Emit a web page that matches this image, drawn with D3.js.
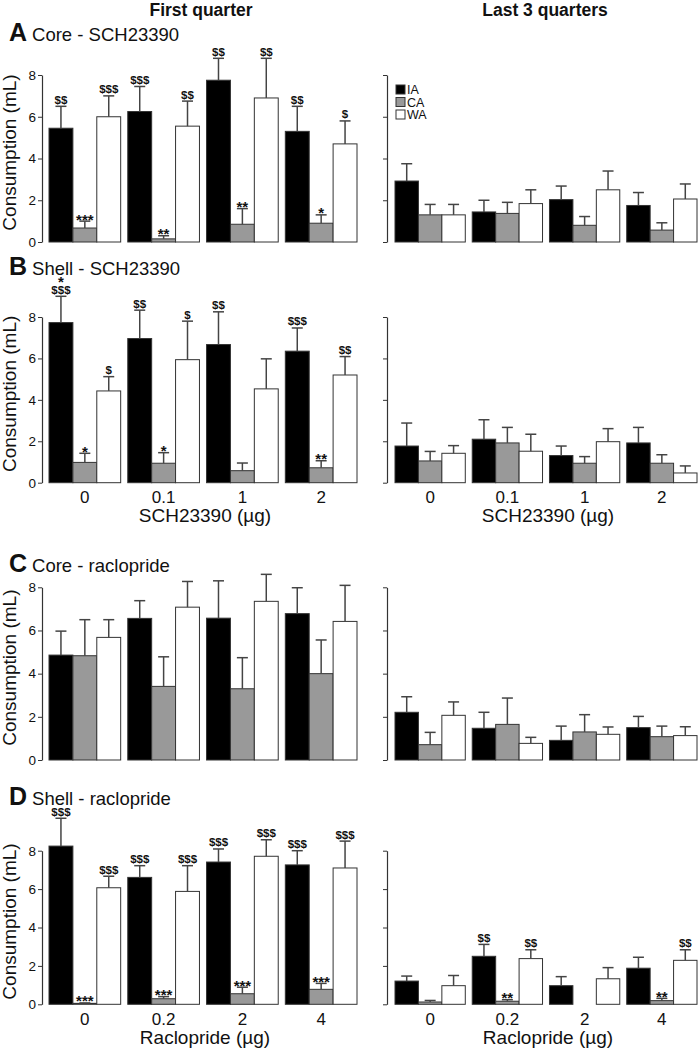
<!DOCTYPE html>
<html><head><meta charset="utf-8">
<script src="https://cdn.jsdelivr.net/npm/d3@7"></script>
<style>body{margin:0;background:#fff} text{font-family:"Liberation Sans",Arial,Helvetica,sans-serif;fill:#111}</style>
</head><body><svg id="c" width="698" height="1049"></svg>
<script>
// ---------- DATA ----------
const seriesNames = ["IA","CA","WA"];
const dosesSCH = ["0","0.1","1","2"];
const dosesRac = ["0","0.2","2","4"];
const yTicks = [0,2,4,6,8];
const columnTitles = ["First quarter","Last 3 quarters"];
const panelLetters = ["A","B","C","D"];
const panelNames = ["Core - SCH23390","Shell - SCH23390","Core - raclopride","Shell - raclopride"];
const xTitles = ["SCH23390 (\u00b5g)","Raclopride (\u00b5g)"];
const yTitle = "Consumption (mL)";

// means [IA, CA, WA] per dose, and SEM
const coreSCH_first_mean = [[5.45,6.25,7.75,5.3],[0.67,0.15,0.85,0.9],[6.0,5.55,6.9,4.7]];
const coreSCH_first_sem  = [[1.05,1.2,1.05,1.2],[0.33,0.15,0.75,0.4],[1.0,1.2,1.9,1.1]];
const coreSCH_first_sig  = [["$$","$$$","$$","$$"],["***","**","**","*"],["$$$","$$","$$","$"]];
const coreSCH_last_mean  = [[2.92,1.44,2.03,1.75],[1.3,1.37,0.8,0.57],[1.3,1.84,2.5,2.06]];
const coreSCH_last_sem   = [[0.83,0.56,0.65,0.62],[0.5,0.53,0.42,0.35],[0.5,0.66,0.9,0.72]];

const shellSCH_first_mean = [[7.73,6.96,6.67,6.35],[0.98,0.94,0.58,0.72],[4.43,5.94,4.53,5.2]];
const shellSCH_first_sem  = [[1.27,1.37,1.58,1.12],[0.44,0.51,0.37,0.34],[0.69,1.86,1.45,0.89]];
const shellSCH_first_sig  = [["*|$$$","$$","$$","$$$"],["*","*","","**"],["$","$","","$$"]];
const shellSCH_last_mean  = [[1.77,2.1,1.31,1.92],[1.05,1.92,0.94,0.94],[1.42,1.52,1.98,0.47]];
const shellSCH_last_sem   = [[1.11,0.94,0.46,0.75],[0.46,0.75,0.32,0.41],[0.37,0.82,0.63,0.34]];

const coreRac_first_mean = [[4.86,6.56,6.57,6.78],[4.83,3.41,3.3,4.0],[5.68,7.08,7.35,6.42]];
const coreRac_first_sem  = [[1.11,0.82,1.73,1.2],[1.67,1.37,1.44,1.56],[0.82,1.19,1.25,1.67]];
const coreRac_last_mean  = [[2.21,1.47,0.91,1.5],[0.71,1.65,1.3,1.08],[2.07,0.77,1.19,1.13]];
const coreRac_last_sem   = [[0.72,0.74,0.66,0.52],[0.57,1.22,0.8,0.49],[0.62,0.28,0.34,0.41]];

const shellRac_first_mean = [[8.24,6.61,7.41,7.26],[0.05,0.29,0.55,0.78],[6.07,5.88,7.71,7.1]];
const shellRac_first_sem  = [[1.45,0.61,0.68,0.74],[0.02,0.11,0.34,0.31],[0.6,1.34,0.86,1.4]];
const shellRac_first_sig  = [["$$$","$$$","$$$","$$$"],["***","***","***","***"],["$$$","$$$","$$$","$$$"]];
const shellRac_last_mean  = [[1.21,2.5,0.97,1.88],[0.12,0.16,0,0.19],[0.97,2.38,1.33,2.29]];
const shellRac_last_sem   = [[0.26,0.62,0.47,0.57],[0.08,0.08,0,0.12],[0.53,0.46,0.58,0.55]];
const shellRac_last_sig   = [["","$$","",""],["","**","","**"],["","$$","","$$"]];

// ---------- DRAW ----------
const svg = d3.select("#c");
const fills = {IA:"#000", CA:"#999", WA:"#fff"};
const left = {axisX:42, r0:49, r1:357};
const right = {axisX:387, r0:395, r1:697};
const rows = [
  {y0:242, y8:75, titleY:41},
  {y0:482.7, y8:317, titleY:275},
  {y0:760, y8:587.3, titleY:572},
  {y0:1004.3, y8:850.7, titleY:805}
];

const panels = [
  {row:0, col:left,  doses:dosesSCH, mean:coreSCH_first_mean, sem:coreSCH_first_sem, sig:coreSCH_first_sig, labels:true},
  {row:0, col:right, doses:dosesSCH, mean:coreSCH_last_mean, sem:coreSCH_last_sem, sig:null, labels:false, legend:true},
  {row:1, col:left,  doses:dosesSCH, mean:shellSCH_first_mean, sem:shellSCH_first_sem, sig:shellSCH_first_sig, labels:true, xTitle:xTitles[0]},
  {row:1, col:right, doses:dosesSCH, mean:shellSCH_last_mean, sem:shellSCH_last_sem, sig:null, labels:false, xTitle:xTitles[0]},
  {row:2, col:left,  doses:dosesRac, mean:coreRac_first_mean, sem:coreRac_first_sem, sig:null, labels:true},
  {row:2, col:right, doses:dosesRac, mean:coreRac_last_mean, sem:coreRac_last_sem, sig:null, labels:false},
  {row:3, col:left,  doses:dosesRac, mean:shellRac_first_mean, sem:shellRac_first_sem, sig:shellRac_first_sig, labels:true, xTitle:xTitles[1]},
  {row:3, col:right, doses:dosesRac, mean:shellRac_last_mean, sem:shellRac_last_sem, sig:shellRac_last_sig, labels:false, xTitle:xTitles[1]}
];

// column titles
svg.append("text").attr("x",201).attr("y",15.5).attr("text-anchor","middle")
  .style("font-size","17.5px").style("font-weight","bold").text(columnTitles[0]);
svg.append("text").attr("x",545).attr("y",15.5).attr("text-anchor","middle")
  .style("font-size","17.5px").style("font-weight","bold").text(columnTitles[1]);

// panel titles + y titles
rows.forEach((r,i)=>{
  const t = svg.append("text").attr("x",9).attr("y",r.titleY);
  t.append("tspan").style("font-size","25px").style("font-weight","bold").text(panelLetters[i]);
  t.append("tspan").attr("dx",5).style("font-size","18.5px").text(panelNames[i]);
  const cy = (r.y0 + r.y8)/2 - 6;
  svg.append("text").attr("transform",`translate(16,${cy}) rotate(-90)`)
    .attr("text-anchor","middle").style("font-size","19px").text(yTitle);
});

panels.forEach(p=>{
  const r = rows[p.row];
  const y = d3.scaleLinear().domain([0,8]).range([r.y0, r.y8]);
  const xg = d3.scaleBand().domain(p.doses).range([p.col.r0, p.col.r1]).paddingInner(0.09).paddingOuter(0);
  const xs = d3.scaleBand().domain(seriesNames).range([0, xg.bandwidth()]);
  const g = svg.append("g");

  // axis
  const ax = d3.axisLeft(y).tickValues(yTicks).tickSize(4).tickSizeOuter(0)
    .tickFormat(p.labels ? d3.format("d") : "");
  const axg = g.append("g").attr("transform",`translate(${p.col.axisX},0)`).call(ax);
  axg.select(".domain").attr("stroke","#333").attr("stroke-width",1.2);
  axg.selectAll(".tick line").attr("stroke","#333");
  axg.selectAll(".tick text").style("font-size","13.5px").attr("fill","#111").attr("x",-6)
    .style("font-family","'Liberation Sans',Arial,sans-serif");

  p.doses.forEach((d,di)=>{
    seriesNames.forEach((s,si)=>{
      const m = p.mean[si][di], e = p.sem[si][di];
      const bx = xg(d) + xs(s), bw = xs.bandwidth();
      if (m > 0) {
        g.append("rect").attr("x",bx).attr("y",y(m)).attr("width",bw).attr("height",y(0)-y(m))
          .attr("fill",fills[s]).attr("stroke", "#333").attr("stroke-width",1);
      }
      const cx = bx + bw/2;
      if (e > 0) {
        g.append("line").attr("x1",cx).attr("x2",cx).attr("y1",y(m)).attr("y2",y(m+e))
          .attr("stroke","#444").attr("stroke-width",1.5);
        g.append("line").attr("x1",cx-5.5).attr("x2",cx+5.5).attr("y1",y(m+e)).attr("y2",y(m+e))
          .attr("stroke","#444").attr("stroke-width",1.5);
      }
      if (p.sig) {
        const lab = p.sig[si][di];
        if (lab) {
          const top = y(m+e);
          const lines = lab.split("|").reverse();
          let base = null;
          lines.forEach((ln,li)=>{
            const star = ln.indexOf("*")>=0;
            let by;
            if (li===0) by = star ? top + 3.5 : top - 2.5;
            else by = base - 7;
            base = by;
            g.append("text").attr("x",cx).attr("y",by).attr("text-anchor","middle")
              .style("font-size", star ? "15px" : "11.5px").style("font-weight","bold").text(ln);
          });
        }
      }
    });
  });

  if (p.row===1 || p.row===3) {
    p.doses.forEach(d=>{
      g.append("text").attr("x",xg(d)+xg.bandwidth()/2).attr("y",r.y0+20.5).attr("text-anchor","middle")
        .style("font-size","17px").text(d);
    });
    g.append("text").attr("x",(p.col.r0+p.col.r1)/2+2).attr("y",r.y0+39.5).attr("text-anchor","middle")
      .style("font-size","19px").text(p.xTitle);
  }

  if (p.legend) {
    seriesNames.forEach((s,i)=>{
      const ly = 85 + i*12.5;
      g.append("rect").attr("x",396).attr("y",ly).attr("width",9).attr("height",9)
        .attr("fill",fills[s]).attr("stroke","#333").attr("stroke-width",1);
      g.append("text").attr("x",407).attr("y",ly+9).style("font-size","12.5px").text(s);
    });
  }
});
</script>
</body></html>
